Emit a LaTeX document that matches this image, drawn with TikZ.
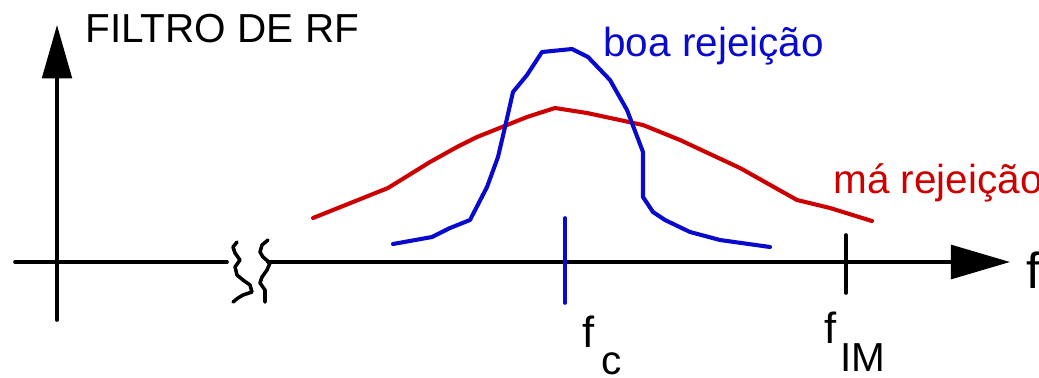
\documentclass[tikz,border=0pt]{standalone}
\usepackage{fontspec}
\setmainfont{Liberation Sans}
\usetikzlibrary{arrows.meta}

\definecolor{filtroRed}{RGB}{204,0,0}
\definecolor{filtroBlue}{RGB}{10,10,204}

\begin{document}
\begin{tikzpicture}[
						x=0.025cm, y=-0.025cm,
						every node/.style={inner sep=0pt, anchor=base west},
						line cap=round,
						line join=round,
						axisline/.style={line width=2.6pt},
						curveline/.style={line width=2.9pt},
						bigtext/.style={font=\fontsize{28.8}{32}\selectfont},
						freqtext/.style={font=\fontsize{31}{36}\selectfont}
						]
						
						\useasboundingbox (0,0) rectangle (1039,377);
						
						% axes
						\coordinate (hstart) at (15,262);
						\coordinate (breakL) at (227,262);
						\coordinate (breakR) at (268,262);
						\coordinate (hend) at (1010,262);
						\coordinate (vstart) at (57,320);
						\coordinate (vend) at (57,25);
						
						\draw[axisline] (hstart) -- (breakL);
						\draw[axisline, -{Triangle[length=42pt,width=24pt]}] (breakR) -- (hend);
						\draw[axisline, -{Triangle[length=38pt,width=21pt]}] (vstart) -- (vend);
						
						% axis break
						\draw[line width=2.5pt] (237,242) -- (233,247) -- (235,253) -- (240,260) -- (235,267) -- (237,275)
							-- (243,280) -- (250,285) -- (252,292) -- (243,295) -- (238,298) -- (233,302);
						\draw[line width=2.5pt] (268,240) -- (262,245) -- (260,252) -- (263,257) -- (270,263) -- (267,270)
							-- (262,277) -- (260,283) -- (265,290) -- (265,302);
						
						% ticks
						\coordinate (fcTop) at (565,218);
						\coordinate (fcBot) at (565,303);
						\coordinate (fimTop) at (846,235);
						\coordinate (fimBot) at (846,293);
						\draw[axisline, filtroBlue] (fcTop) -- (fcBot);
						\draw[axisline] (fimTop) -- (fimBot);
						
						% ma rejeicao
						\draw[curveline, filtroRed] (313,218) -- (388,188) -- (430,162) -- (457,147) -- (477,137)
							-- (527,117) -- (555,108) -- (587,113) -- (643,125) -- (680,140) -- (740,168)
							-- (797,200) -- (830,208) -- (872,221);
						
						% boa rejeicao
						\draw[curveline, filtroBlue] (393,244) -- (432,237) -- (450,228) -- (470,220) -- (487,187)
							-- (498,157) -- (505,127) -- (513,92) -- (527,75) -- (542,52) -- (572,49)
							-- (588,57) -- (610,80) -- (627,110) -- (643,152) -- (643,197) -- (653,212)
							-- (665,220) -- (690,232) -- (720,240) -- (770,247);
						
						% labels
						\node[bigtext] (title) at (85,42) {FILTRO DE RF};
						\node[bigtext, text=filtroBlue] (goodLbl) at (603,56) {boa rejeição};
						\node[bigtext, text=filtroRed] (badLbl) at (833,193) {má rejeição};
						\node[font=\fontsize{36}{40}\selectfont] (fLbl) at (1026,288) {f};
						
						\node[freqtext] (fcF) at (582,347) {f};
						\node[bigtext] (fcSub) at (601,374) {c};
						\node[freqtext] (fimF) at (824,343) {f};
						\node[bigtext] (fimSub) at (840,371) {IM};
						
					\end{tikzpicture}
\end{document}
